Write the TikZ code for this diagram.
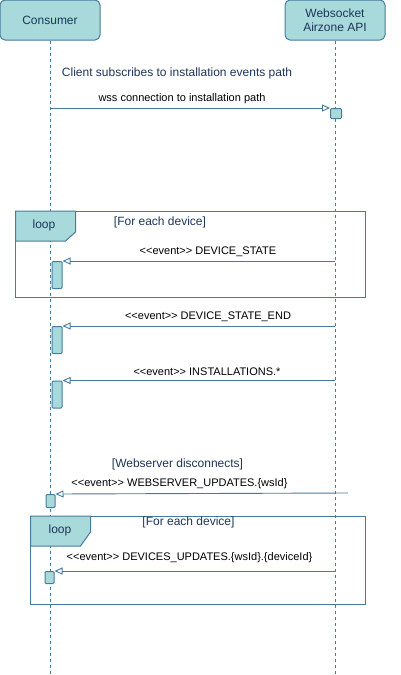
\documentclass[tikz,border=0pt]{standalone}
\usepackage{fontspec}
\setmainfont{Liberation Sans}
\usetikzlibrary{arrows.meta}
\definecolor{tfill}{HTML}{A8DADC}
\definecolor{tline}{HTML}{457B9D}
\definecolor{ttext}{HTML}{1D3557}
\newcommand\dlt{<\kern0pt<}
\newcommand\dgt{>\kern0pt>}
\tikzset{
  actor/.style={draw=tline, fill=tfill, rounded corners=5pt, minimum width=100pt, minimum height=40pt, inner sep=0pt, text=ttext, font=\fontsize{12}{14}\selectfont, align=center, line width=1pt},
  life/.style={draw=tline, dashed, dash pattern=on 3pt off 3pt, line width=0.8pt},
  act/.style={draw=tline, fill=tfill, rounded corners=1pt, inner sep=0pt, line width=1pt, anchor=north west},
  msg/.style={draw=tline, line width=0.9pt, -{Triangle[open, length=8pt, width=7pt]}},
  mlabel/.style={font=\fontsize{11}{13}\selectfont, text=black, inner sep=0pt},
  note/.style={font=\fontsize{12}{14}\selectfont, text=ttext, inner sep=0pt},
  frame/.style={draw=tline, line width=1pt},
  tab/.style={draw=tline, fill=tfill, line width=1pt},
}
\begin{document}
\begin{tikzpicture}[x=1pt, y=-1pt]
\useasboundingbox (0,0) rectangle (400,675);
% lifelines
\coordinate (cbot) at (50,675);
\coordinate (wbot) at (335,675);
\node[actor] (cons) at (50,20) {Consumer};
\node[actor] (ws) at (335,20) {Websocket\\Airzone API};
\draw[life] (cons.south) -- (cbot);
\draw[life] (ws.south) -- (wbot);

% top note
\node[note] (n1) at (177,73) {Client subscribes to installation events path};
\coordinate (s1) at (50,108);
\node[act, minimum width=11pt, minimum height=10pt] (a1) at (330,108) {};
\draw[msg] (s1) -- (a1.north west);
\node[mlabel] (l1) at (182,99) {wss connection to installation path};

% loop 1
\draw[frame] (15.5,211) rectangle (365.5,297.5);
\draw[tab] (15.5,211) -- (75.5,211) -- (75.5,232) -- (65.5,241) -- (15.5,241) -- cycle;
\node[note] (lp1) at (44,225.5) {loop};
\node[note] (c1) at (160,222.5) {[For each device]};
\coordinate (s2) at (335,261);
\node[act, minimum width=10pt, minimum height=27pt] (a2) at (51.5,261) {};
\draw[msg] (s2) -- (a2.north east);
\node[mlabel] (l2) at (208,252) {\dlt event\dgt{} DEVICE\_STATE};

% device state end
\coordinate (s3) at (335,326);
\node[act, minimum width=10pt, minimum height=27pt] (a3) at (51.5,326) {};
\draw[msg] (s3) -- (a3.north east);
\node[mlabel] (l3) at (208,317) {\dlt event\dgt{} DEVICE\_STATE\_END};

% installations
\coordinate (s4) at (335,380.5);
\node[act, minimum width=10pt, minimum height=27pt] (a4) at (51.5,380.5) {};
\draw[msg] (s4) -- (a4.north east);
\node[mlabel] (l4) at (207,371.5) {\dlt event\dgt{} INSTALLATIONS.*};

% webserver disconnects
\node[note] (n2) at (177.5,464) {[Webserver disconnects]};
\coordinate (s5) at (348,493);
\node[act, minimum width=9pt, minimum height=13pt] (a5) at (45.5,494) {};
\draw[msg] (s5) -- (a5.north east);
\node[mlabel] (l5) at (179.5,484) {\dlt event\dgt{} WEBSERVER\_UPDATES.\{wsId\}};

% loop 2
\draw[frame] (30.5,516) rectangle (365.5,604);
\draw[tab] (30.5,516) -- (90.5,516) -- (90.5,532) -- (80.5,546) -- (30.5,546) -- cycle;
\node[note] (lp2) at (60,530.5) {loop};
\node[note] (c2) at (188.5,522.5) {[For each device]};
\coordinate (s6) at (335,571);
\node[act, minimum width=9pt, minimum height=12pt] (a6) at (44.5,571) {};
\draw[msg] (s6) -- (a6.north east);
\node[mlabel] (l6) at (189.5,558) {\dlt event\dgt{} DEVICES\_UPDATES.\{wsId\}.\{deviceId\}};
\end{tikzpicture}
\end{document}
